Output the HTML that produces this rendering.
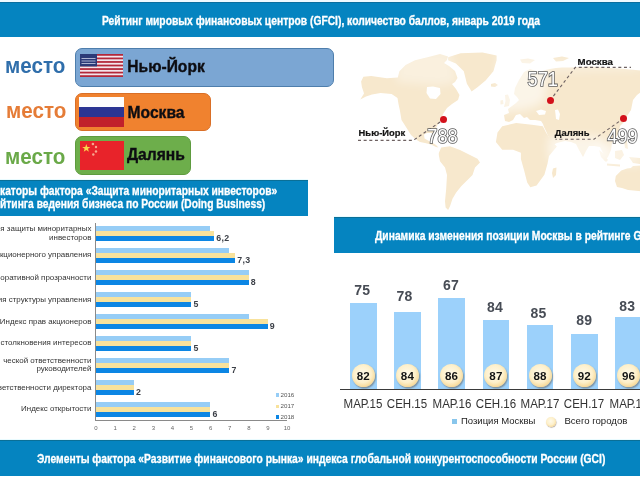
<!DOCTYPE html>
<html><head><meta charset="utf-8">
<style>
*{margin:0;padding:0;box-sizing:border-box}
html,body{width:640px;height:480px;overflow:hidden;background:#fff}
body{position:relative;font-family:"Liberation Sans",sans-serif}
.a{position:absolute}
.band{position:absolute;background:#0584c0}
.bt{position:absolute;color:#fff;font-weight:700;white-space:nowrap;transform-origin:0 0;-webkit-text-stroke:0.3px #fff}
.mesto{position:absolute;font-weight:700;font-size:22px;white-space:nowrap;letter-spacing:0;transform:scaleX(0.937);transform-origin:0 0}
.box{position:absolute;border-radius:7px}
.city{position:absolute;font-weight:700;font-size:15.6px;color:#0d0d12;white-space:nowrap;-webkit-text-stroke:0.35px #0d0d12}
.lbl{position:absolute;font-size:7.95px;color:#333;white-space:nowrap;text-align:right;right:548.6px;line-height:8.6px}
.bar{position:absolute;height:5px}
.lb{background:#96cdf6}
.ye{background:#f8e29c}
.db{background:#0c86e4}
.val{position:absolute;font-weight:700;font-size:8.8px;color:#3c4048;white-space:nowrap;letter-spacing:0.3px}
.tk{position:absolute;font-size:6px;color:#666;width:12px;margin-left:-6px;text-align:center;top:425.3px}
.col{position:absolute;background:#9cd1fb;bottom:91px}
.cv{position:absolute;font-weight:700;font-size:14px;color:#474c55;white-space:nowrap;letter-spacing:0.2px;width:30px;text-align:center}
.circ{position:absolute;width:23px;height:23px;border-radius:50%;
 background:radial-gradient(circle at 46% 42%,#fffaea 0%,#fdf0cb 48%,#f8dc9e 70%,#ecb870 86%,#d9974f 100%);
 box-shadow:1px 1.5px 1.5px rgba(90,70,50,.45);
 font-weight:700;font-size:11.6px;color:#141414;text-align:center;line-height:24px;letter-spacing:0.1px}
.xl{position:absolute;font-size:12px;color:#333;white-space:nowrap;width:50px;text-align:center;top:397px;transform:scaleX(0.96)}
.ml{position:absolute;font-weight:700;font-size:9.4px;color:#141414;white-space:nowrap;-webkit-text-stroke:0.2px #141414}
.num{position:absolute;font-size:20px;color:#fff;-webkit-text-stroke:1px #5a5a5a;white-space:nowrap;letter-spacing:-0.5px;transform-origin:0 0}
.dot{position:absolute;width:7px;height:7px;border-radius:50%;background:#d3111b}
</style></head><body>

<!-- MAP placeholder -->
<svg class="a" style="left:0;top:0" width="640" height="480" viewBox="0 0 640 480">
<defs><filter id="bl" x="-20%" y="-20%" width="140%" height="140%"><feGaussianBlur stdDeviation="5"/></filter><filter id="bs"><feGaussianBlur stdDeviation="0.45"/></filter></defs>
<g fill="#f7e8cd" filter="url(#bs)">
<path d="M361.1,81.4 L363.4,76.7 L371.2,76.0 L386.9,78.3 L397.8,77.5 L399.4,71.2 L405.6,65.0 L415.0,60.3 L427.5,57.2 L440.0,54.0 L448.0,56.5 L447.0,60.0 L444.0,63.0 L449.0,66.0 L455.0,71.0 L457.5,78.0 L455.0,82.0 L452.0,84.0 L456.0,89.0 L459.5,95.0 L458.0,100.0 L452.0,104.0 L447.0,108.0 L443.0,114.0 L441.0,120.0 L438.0,124.0 L436.0,128.0 L435.5,133.0 L434.0,135.5 L431.5,133.0 L427.0,133.0 L424.0,134.5 L424.5,138.5 L428.0,140.5 L432.0,142.5 L436.0,145.0 L438.5,147.5 L436.0,147.0 L431.0,144.5 L425.0,143.0 L420.0,142.0 L416.0,139.5 L411.0,135.0 L406.3,127.5 L401.5,120.0 L400.0,111.0 L398.5,104.0 L397.5,98.0 L391.6,93.9 L380.6,93.1 L372.0,94.5 L366.0,96.5 L360.3,99.4 L364.0,93.5 L363.4,91.6 L361.9,86.9 Z"/>
<path d="M448.1,57.2 L460.6,53.3 L482.5,52.5 L496.6,55.6 L496.6,60.3 L493.4,71.2 L485.6,80.6 L477.8,86.9 L471.6,91.6 L466.9,83.8 L463.8,71.2 L455.9,63.4 L448.1,60.3 Z"/>
<path d="M438.8,153.0 L441.2,147.5 L450.0,146.2 L460.0,150.0 L470.0,155.0 L477.5,158.8 L480.0,162.5 L475.0,167.5 L472.5,175.0 L467.5,180.0 L461.2,186.2 L456.2,192.5 L452.5,198.8 L450.0,206.2 L448.1,210.0 L445.6,207.5 L445.0,201.2 L446.2,188.8 L447.0,175.0 L445.0,167.5 L440.0,161.2 L438.8,155.0 Z"/>
<path d="M505.0,121.0 L504.0,115.0 L509.0,113.0 L508.0,109.0 L512.0,106.0 L516.0,103.0 L519.0,100.0 L517.0,97.0 L514.0,94.0 L515.0,88.0 L519.0,80.0 L524.0,72.0 L530.0,69.0 L536.0,71.0 L540.0,72.0 L545.0,70.0 L550.0,69.0 L556.0,68.0 L562.0,67.5 L570.0,67.5 L580.0,67.0 L590.0,66.5 L600.0,67.0 L610.0,68.0 L620.0,68.5 L630.0,69.5 L641.0,70.5 L641.0,92.0 L637.0,95.0 L633.0,100.0 L631.0,110.0 L627.0,116.0 L624.0,122.0 L620.0,126.0 L619.0,132.0 L616.0,138.0 L612.0,143.0 L611.0,150.0 L608.0,157.0 L604.0,161.0 L603.0,153.0 L600.0,147.0 L594.0,146.0 L589.0,146.0 L586.0,151.0 L583.0,157.0 L579.0,150.0 L576.0,144.0 L571.0,142.0 L565.0,141.0 L561.0,142.0 L557.0,143.0 L553.0,145.0 L549.0,138.0 L546.0,131.0 L544.0,127.0 L543.0,124.0 L541.0,121.0 L535.0,120.0 L530.0,120.0 L527.0,117.0 L524.0,118.0 L520.0,114.0 L516.0,115.0 L513.0,120.0 L509.0,122.0 Z"/>
<path d="M502.2,126.2 L516.2,123.1 L531.9,124.7 L542.8,126.2 L546.0,132.5 L552.2,141.9 L556.9,146.6 L549.0,155.9 L547.5,163.8 L544.4,174.7 L536.6,185.6 L530.3,187.2 L527.2,182.5 L524.0,170.0 L520.9,159.0 L520.9,152.8 L513.1,149.7 L502.2,149.7 L495.9,141.9 L497.5,132.5 Z"/>
<path d="M553.0,168.5 L556.5,167.5 L556.0,175.0 L553.0,178.0 L552.0,173.0 Z"/>
<path d="M505.0,95.0 L508.0,94.5 L510.0,100.0 L509.0,106.0 L504.0,107.0 L505.5,101.0 Z"/>
<path d="M500.5,100.5 L503.0,100.0 L503.5,104.0 L500.5,104.5 Z"/>
<path d="M615.8,176.1 L621.3,170.6 L627.0,168.5 L630.9,167.9 L633.0,166.0 L641.0,165.5 L641.0,191.3 L628.1,189.9 L622.0,188.0 L617.0,187.1 L615.0,181.0 Z"/>
<path d="M599.0,150.0 L603.0,153.0 L608.0,160.0 L606.0,162.0 L601.0,157.0 Z"/>
<path d="M615.0,151.0 L622.0,150.0 L624.0,155.0 L620.0,160.0 L615.0,158.0 Z"/>
<path d="M607.0,163.5 L620.0,164.5 L620.0,166.5 L607.0,165.5 Z"/>
<path d="M629.0,157.0 L640.0,158.0 L640.0,164.0 L633.0,163.0 Z"/>
<path d="M624.0,140.0 L627.0,141.0 L628.0,149.0 L625.0,148.0 Z"/>
<path d="M491.0,84.0 L495.0,83.0 L498.0,85.0 L495.0,87.0 L491.0,86.5 Z"/>
<path d="M520.0,59.5 L528.0,58.5 L535.0,60.0 L530.0,63.5 L522.0,63.0 Z"/>
<path d="M553.0,58.0 L562.0,56.5 L569.0,58.0 L563.0,61.0 L556.0,61.5 Z"/>
</g><g fill="#ffffff">
<path d="M427.0,87.0 L433.0,86.5 L440.0,88.0 L440.5,94.0 L436.0,99.0 L430.0,98.5 L426.5,93.0 Z"/>
<path d="M536.0,111.0 L541.0,109.5 L546.0,111.0 L545.0,114.5 L539.0,115.0 Z"/>
<path d="M555.0,110.0 L558.0,109.5 L560.0,114.0 L559.0,120.0 L556.0,119.0 L555.5,114.0 Z"/>
</g>
<g fill="#ffffff" filter="url(#bl)">
<path opacity="0.55" d="M498,55 L546,55 L548,75 L545,100 L536,106 L524,110 L498,112 Z"/>
<path opacity="0.35" d="M396,50 L450,50 L458,82 L440,86 L396,82 Z"/>
<path opacity="0.55" d="M548,136 L600,136 L612,160 L548,160 Z"/>
<path opacity="0.35" d="M546,60 L641,60 L641,70 L546,72 Z"/>
<path opacity="0.45" d="M596,142 L641,142 L641,166 L596,166 Z"/>
</g></svg>

<!-- map overlays -->
<svg class="a" style="left:0;top:0" width="640" height="480" viewBox="0 0 640 480">
<g fill="none" stroke="#6e6262" stroke-width="1.15" stroke-dasharray="3 2.65">
<polyline points="358,140.3 413.3,140.3 443,120"/>
<polyline points="550,100.6 575.3,67.4 631,67.4"/>
<polyline points="623.6,118.4 594,139.2 555.5,139.2"/>
</g>
</svg>
<div class="dot" style="left:439.5px;top:116.4px"></div>
<div class="dot" style="left:546.5px;top:97.1px"></div>
<div class="dot" style="left:620.1px;top:114.9px"></div>
<div class="ml" style="left:358.6px;top:127px">Нью-Йорк</div>
<div class="ml" style="left:577.6px;top:55.6px;font-size:9.7px">Москва</div>
<div class="ml" style="left:554.8px;top:126.6px">Далянь</div>
<svg class="a" style="left:0;top:0" width="640" height="480" viewBox="0 0 640 480">
<g font-family="Liberation Sans" font-size="20" font-weight="400" fill="#fff" stroke="#5c5c5c" stroke-width="1.7" paint-order="stroke">
<text transform="translate(427.3,143.4) scale(0.91,1)">788</text>
<text transform="translate(527.6,85.6) scale(0.91,1)">571</text>
<text transform="translate(607.3,142.6) scale(0.91,1)">499</text>
</g>
</svg>

<!-- top header -->
<div class="a" style="left:0;top:0;width:640px;height:2px;background:#effaff"></div>
<div class="band" style="left:0;top:2px;width:640px;height:35px;border-top:1px solid #0a6f9f"></div>
<div class="bt" style="left:101.6px;top:14.1px;font-size:12px;transform:scaleX(0.858)">Рейтинг мировых финансовых центров (GFCI), количество баллов, январь 2019 года</div>

<!-- places -->
<div class="mesto" style="left:5px;top:53px;color:#2f6eab">место</div>
<div class="box" style="left:75px;top:48px;width:259px;height:39px;background:#7ba6d3;border:1.5px solid #4e7eac"></div>
<svg class="a" style="left:80px;top:54px" width="43" height="23" viewBox="0 0 43 23" preserveAspectRatio="none">
<rect width="43" height="23" fill="#f3e6ec"/>
<g fill="#b3283a"><rect y="0" width="43" height="1.77"/><rect y="3.54" width="43" height="1.77"/><rect y="7.08" width="43" height="1.77"/><rect y="10.62" width="43" height="1.77"/><rect y="14.16" width="43" height="1.77"/><rect y="17.7" width="43" height="1.77"/><rect y="21.23" width="43" height="1.77"/></g>
<rect width="17" height="12.4" fill="#2b3a78"/>
<g fill="#d8dcef" opacity=".75"><rect x="1.5" y="4" width="14" height="1"/><rect x="1.5" y="6.5" width="14" height="1"/><rect x="1.5" y="9" width="14" height="1"/></g>
</svg>
<div class="city" style="left:127.3px;top:57.6px">Нью-Йорк</div>

<div class="mesto" style="left:6px;top:98px;color:#e57c37">место</div>
<div class="box" style="left:75px;top:92.5px;width:136px;height:38px;background:#f0822f;border:1.5px solid #d96f27"></div>
<svg class="a" style="left:79px;top:97px" width="45" height="30" viewBox="0 0 45 30" preserveAspectRatio="none">
<rect width="45" height="10" fill="#fdfdfd"/><rect y="10" width="45" height="10" fill="#2b3593"/><rect y="20" width="45" height="10" fill="#c1212b"/>
</svg>
<div class="city" style="left:127.6px;top:104.4px">Москва</div>

<div class="mesto" style="left:5px;top:143.5px;color:#6aa948">место</div>
<div class="box" style="left:75px;top:136px;width:116px;height:39px;background:#6dae4b;border:1.5px solid #5e9b3f"></div>
<svg class="a" style="left:80px;top:140.5px" width="44" height="29.5" viewBox="0 0 44 29.5" preserveAspectRatio="none">
<rect width="44" height="29.5" fill="#e8232a"/>
<polygon fill="#f9d54a" points="6.30,3.00 7.33,5.88 10.39,5.97 7.96,7.84 8.83,10.78 6.30,9.05 3.77,10.78 4.64,7.84 2.21,5.97 5.27,5.88"/>
<g fill="#f7a890"><circle cx="12.9" cy="3" r="1.3"/><circle cx="16" cy="6" r="1.2"/><circle cx="16" cy="10.5" r="1.2"/><circle cx="13.3" cy="13.5" r="1.2"/></g>
</svg>
<div class="city" style="left:127px;top:146.3px">Далянь</div>

<!-- second header -->
<div class="a" style="left:0;top:179px;width:308px;height:1px;background:#e9fbff"></div>
<div class="band" style="left:0;top:180px;width:308px;height:36px;border-top:1px solid #0a6f97"></div>
<div class="bt" style="left:0;top:184.8px;font-size:12px;line-height:13.4px;transform:scaleX(0.855)">каторы фактора «Защита миноритарных инвесторов»<br>йтинга ведения бизнеса по России (Doing Business)</div>

<!-- right header -->
<div class="a" style="left:334px;top:215.5px;width:306px;height:1px;background:#e9fbff"></div>
<div class="band" style="left:334px;top:216.5px;width:306px;height:36px;border-top:1px solid #0a6f97"></div>
<div class="bt" style="left:374.5px;top:229px;font-size:12px;transform:scaleX(0.858)">Динамика изменения позиции Москвы в рейтинге GFCI</div>

<!-- bar chart -->
<div class="a" style="left:95px;top:222.5px;width:1px;height:198px;background:#8a8a8a"></div>
<div class="a" style="left:95px;top:419.5px;width:192px;height:1px;background:#8a8a8a"></div>
<div class="bar lb" style="left:96px;top:226px;width:114.3px;height:4.6px"></div>
<div class="bar ye" style="left:96px;top:230.6px;width:118.1px;height:5px"></div>
<div class="bar db" style="left:96px;top:236px;width:118.1px;height:5.2px"></div>
<div class="val" style="left:216.3px;top:233.2px">6,2</div>
<div class="bar lb" style="left:96px;top:248px;width:133.4px;height:4.6px"></div>
<div class="bar ye" style="left:96px;top:252.6px;width:139.1px;height:5px"></div>
<div class="bar db" style="left:96px;top:258px;width:139.1px;height:5.2px"></div>
<div class="val" style="left:237.3px;top:255.2px">7,3</div>
<div class="bar lb" style="left:96px;top:270px;width:152.5px;height:4.6px"></div>
<div class="bar ye" style="left:96px;top:274.6px;width:152.5px;height:5px"></div>
<div class="bar db" style="left:96px;top:280px;width:152.5px;height:5.2px"></div>
<div class="val" style="left:250.7px;top:277.2px">8</div>
<div class="bar lb" style="left:96px;top:292px;width:95.2px;height:4.6px"></div>
<div class="bar ye" style="left:96px;top:296.6px;width:95.2px;height:5px"></div>
<div class="bar db" style="left:96px;top:302px;width:95.2px;height:5.2px"></div>
<div class="val" style="left:193.4px;top:299.2px">5</div>
<div class="bar lb" style="left:96px;top:314px;width:152.5px;height:4.6px"></div>
<div class="bar ye" style="left:96px;top:318.6px;width:171.6px;height:5px"></div>
<div class="bar db" style="left:96px;top:324px;width:171.6px;height:5.2px"></div>
<div class="val" style="left:269.8px;top:321.2px">9</div>
<div class="bar lb" style="left:96px;top:336px;width:95.2px;height:4.6px"></div>
<div class="bar ye" style="left:96px;top:340.6px;width:95.2px;height:5px"></div>
<div class="bar db" style="left:96px;top:346px;width:95.2px;height:5.2px"></div>
<div class="val" style="left:193.4px;top:343.2px">5</div>
<div class="bar lb" style="left:96px;top:358px;width:133.4px;height:4.6px"></div>
<div class="bar ye" style="left:96px;top:362.6px;width:133.4px;height:5px"></div>
<div class="bar db" style="left:96px;top:368px;width:133.4px;height:5.2px"></div>
<div class="val" style="left:231.6px;top:365.2px">7</div>
<div class="bar lb" style="left:96px;top:380px;width:37.9px;height:4.6px"></div>
<div class="bar ye" style="left:96px;top:384.6px;width:37.9px;height:5px"></div>
<div class="bar db" style="left:96px;top:390px;width:37.9px;height:5.2px"></div>
<div class="val" style="left:136.1px;top:387.2px">2</div>
<div class="bar lb" style="left:96px;top:402px;width:114.3px;height:4.6px"></div>
<div class="bar ye" style="left:96px;top:406.6px;width:114.3px;height:5px"></div>
<div class="bar db" style="left:96px;top:412px;width:114.3px;height:5.2px"></div>
<div class="val" style="left:212.5px;top:409.2px">6</div>
<div class="lbl" style="top:225.3px">ия защиты миноритарных</div>
<div class="lbl" style="top:233.9px">инвесторов</div>
<div class="lbl" style="top:251.0px">кционерного управления</div>
<div class="lbl" style="top:273.7px">оративной прозрачности</div>
<div class="lbl" style="top:295.6px">гия структуры управления</div>
<div class="lbl" style="top:317.5px">Индекс прав акционеров</div>
<div class="lbl" style="top:339.2px">столкновения интересов</div>
<div class="lbl" style="top:356.7px">ческой ответственности</div>
<div class="lbl" style="top:365.0px">руководителей</div>
<div class="lbl" style="top:383.5px">ветственности директора</div>
<div class="lbl" style="top:405.4px">Индекс открытости</div>
<div class="tk" style="left:96.0px">0</div>
<div class="tk" style="left:115.1px">1</div>
<div class="tk" style="left:134.2px">2</div>
<div class="tk" style="left:153.3px">3</div>
<div class="tk" style="left:172.4px">4</div>
<div class="tk" style="left:191.5px">5</div>
<div class="tk" style="left:210.6px">6</div>
<div class="tk" style="left:229.7px">7</div>
<div class="tk" style="left:248.8px">8</div>
<div class="tk" style="left:267.9px">9</div>
<div class="tk" style="left:287.0px">10</div>
<div class="a lb" style="left:275.5px;top:393.3px;width:3.5px;height:3.5px"></div>
<div class="a" style="left:280.5px;top:390.7px;font-size:6.2px;color:#555">2016</div>
<div class="a ye" style="left:275.5px;top:404.8px;width:3.5px;height:3.5px"></div>
<div class="a" style="left:280.5px;top:402.2px;font-size:6.2px;color:#555">2017</div>
<div class="a db" style="left:275.5px;top:415.2px;width:3.5px;height:3.5px"></div>
<div class="a" style="left:280.5px;top:412.6px;font-size:6.2px;color:#555">2018</div>
<!-- /bar chart -->

<!-- col chart -->
<div class="col" style="left:350.0px;top:303.25px;width:26.5px;height:85.75px"></div>
<div class="col" style="left:394.2px;top:312px;width:26.5px;height:77.00px"></div>
<div class="col" style="left:438.4px;top:297.5px;width:26.5px;height:91.50px"></div>
<div class="col" style="left:482.6px;top:319.75px;width:26.5px;height:69.25px"></div>
<div class="col" style="left:526.8px;top:324.75px;width:26.5px;height:64.25px"></div>
<div class="col" style="left:571.0px;top:333.5px;width:26.5px;height:55.50px"></div>
<div class="col" style="left:615.2px;top:316.6px;width:26.5px;height:72.40px"></div>
<div class="cv" style="left:347.2px;top:282.6px;line-height:14px">75</div>
<div class="cv" style="left:389.6px;top:288.9px;line-height:14px">78</div>
<div class="cv" style="left:436.0px;top:278.4px;line-height:14px">67</div>
<div class="cv" style="left:480.0px;top:299.6px;line-height:14px">84</div>
<div class="cv" style="left:523.4px;top:305.9px;line-height:14px">85</div>
<div class="cv" style="left:569.2px;top:312.8px;line-height:14px">89</div>
<div class="cv" style="left:612.2px;top:298.8px;line-height:14px">83</div>
<div class="a" style="left:340px;top:388.6px;width:300px;height:1.3px;background:#3a3a3a"></div>
<div class="circ" style="left:351.8px;top:364.3px">82</div>
<div class="circ" style="left:395.9px;top:364.3px">84</div>
<div class="circ" style="left:440.1px;top:364.3px">86</div>
<div class="circ" style="left:484.4px;top:364.3px">87</div>
<div class="circ" style="left:528.5px;top:364.3px">88</div>
<div class="circ" style="left:572.8px;top:364.3px">92</div>
<div class="circ" style="left:617.0px;top:364.3px">96</div>
<div class="xl" style="left:338.2px">МАР.15</div>
<div class="xl" style="left:382.4px">СЕН.15</div>
<div class="xl" style="left:426.6px">МАР.16</div>
<div class="xl" style="left:470.9px">СЕН.16</div>
<div class="xl" style="left:515.0px">МАР.17</div>
<div class="xl" style="left:559.2px">СЕН.17</div>
<div class="xl" style="left:603.5px">МАР.18</div>
<div class="a" style="left:451.6px;top:418.6px;width:5px;height:5px;background:#88c6ec"></div>
<div class="a" style="left:461px;top:414.7px;font-size:9.5px;color:#222;white-space:nowrap">Позиция Москвы</div>
<div class="circ" style="left:546px;top:416.5px;width:10px;height:10px;box-shadow:0.5px 0.8px 0.8px rgba(90,70,50,.45)"></div>
<div class="a" style="left:564.4px;top:414.7px;font-size:9.6px;color:#222;white-space:nowrap">Всего городов</div>
<!-- /col chart -->

<!-- footer -->
<div class="a" style="left:0;top:439px;width:640px;height:1px;background:#e9fbff"></div>
<div class="band" style="left:0;top:440px;width:640px;height:35.5px;border-top:1px solid #0a6f97"></div>
<div class="bt" style="left:37px;top:451.9px;font-size:12px;transform:scaleX(0.858)">Элементы фактора «Развитие финансового рынка» индекса глобальной конкурентоспособности России (GCI)</div>

</body></html>
